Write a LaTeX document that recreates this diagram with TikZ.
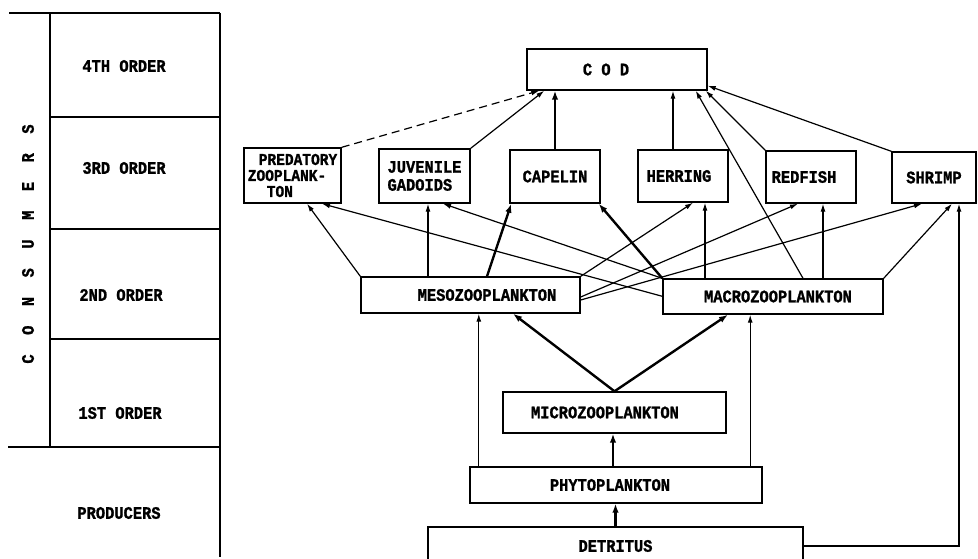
\documentclass[tikz,border=0pt]{standalone}
\usepackage{fontspec}
\newfontfamily\tw{Liberation Mono}[FakeStretch=0.88,FakeBold=1.2]
\usetikzlibrary{arrows.meta,calc}
\newcommand\consgap{\hspace*{19.5pt}}
\begin{document}
\begin{tikzpicture}[x=1pt,y=-1pt,
  every node/.style={font=\tw\bfseries\fontsize{17.5}{15.5}\selectfont, inner sep=1pt},
  bx/.style={draw, line width=1.4pt, rectangle, align=center},
  arr/.style={line width=1.2pt, -{Latex[length=8pt,width=5pt]}},
  tarr/.style={line width=2.4pt, -{Latex[length=9pt,width=6.5pt]}},
  dsh/.style={dash pattern=on 8pt off 5pt},
  tbl/.style={line width=1.4pt}]
\useasboundingbox (0,0) rectangle (978,559);

% left table
\draw[tbl] (9,13) -- (220,13);
\draw[tbl] (50,13) -- (50,447);
\draw[tbl] (50,117) -- (220,117);
\draw[tbl] (50,229) -- (220,229);
\draw[tbl] (50,339) -- (220,339);
\draw[tbl] (8,447) -- (220,447);
\draw[tbl] (220,13) -- (220,557);
\node (o4) at (124,66) {4TH ORDER};
\node (o3) at (124,168) {3RD ORDER};
\node (o2) at (121,295) {2ND ORDER};
\node (o1) at (120,413) {1ST ORDER};
\node (prod) at (119,513) {PRODUCERS};
\node[rotate=90] (cons) at (28,244) {C\consgap O\consgap N\consgap S\consgap U\consgap M\consgap E\consgap R\consgap S};

% boxes
\node[bx, minimum width=180pt, minimum height=41pt] (cod) at (617,69.5) {C O D\hspace*{22pt}};
\node[bx, minimum width=97pt, minimum height=55pt, align=left, font=\tw\bfseries\fontsize{16.5}{16}\selectfont] (pred) at (292.5,175.5) {\hspace*{11pt}PREDATORY\\ZOOPLANK-\\\hspace*{19pt}TON};
\node[bx, minimum width=91pt, minimum height=54pt, align=left, font=\tw\bfseries\fontsize{17.5}{18}\selectfont] (juv) at (424.5,176) {JUVENILE\\GADOIDS};
\node[bx, minimum width=90pt, minimum height=53pt] (cap) at (555,176.5) {CAPELIN};
\node[bx, minimum width=90pt, minimum height=52pt] (her) at (683,176) {HERRING\hspace*{8pt}};
\node[bx, minimum width=90pt, minimum height=52pt] (red) at (811,177) {REDFISH\hspace*{14pt}};
\node[bx, minimum width=84pt, minimum height=51pt] (shr) at (934,177.5) {SHRIMP};
\node[bx, minimum width=219pt, minimum height=36pt] (meso) at (470.5,295) {\hspace*{33pt}MESOZOOPLANKTON};
\node[bx, minimum width=220pt, minimum height=35pt] (macro) at (773,296.5) {\hspace*{10pt}MACROZOOPLANKTON};
\node[bx, minimum width=223pt, minimum height=41pt] (micro) at (614.5,412.5) {MICROZOOPLANKTON\hspace*{19pt}};
\node[bx, minimum width=292pt, minimum height=36pt] (phyto) at (616,485) {PHYTOPLANKTON\hspace*{12pt}};
\node[bx, minimum width=375pt, minimum height=38pt] (det) at (615.5,546) {DETRITUS};

% into COD
\draw[arr, dsh] (pred.north east) -- ([xshift=13pt]cod.south west);
\draw[arr] (juv.north east) -- ([xshift=18pt]cod.south west);
\draw[tarr] (cap.north) -- (cap.north |- cod.south);
\draw[arr] ([xshift=-10pt]her.north) -- ([xshift=-10pt]her.north |- cod.south);
\draw[arr] ([xshift=30pt]macro.north) -- ([xshift=-12pt]cod.south east);
\draw[arr] (red.north west) -- ([xshift=-2pt]cod.south east);
\draw[arr] (shr.north west) -- ([yshift=5pt]cod.south east);

% into third order
\draw[arr] (meso.north west) -- ([xshift=14.5pt]pred.south);
\draw[arr] ([yshift=-18pt]macro.north west) -- ([xshift=29.5pt]pred.south);
\draw[arr] ([xshift=-42.5pt]meso.north) -- ([xshift=-42.5pt]meso.north |- juv.south);
\draw[arr] (macro.north west) -- ([xshift=18.5pt]juv.south);
\draw[tarr] ([xshift=16.5pt]meso.north) -- ([xshift=2pt]cap.south west);
\draw[tarr] (macro.north west) -- ([xshift=-2pt]cap.south east);
\draw[arr] (meso.north east) -- ([xshift=10pt]her.south);
\draw[arr] ([xshift=-68pt]macro.north) -- ([xshift=-68pt]macro.north |- her.south);
\draw[arr] ([yshift=-2pt]meso.east) -- ([xshift=-13pt]red.south);
\draw[arr] ([xshift=50pt]macro.north) -- ([xshift=50pt]macro.north |- red.south);
\draw[arr] ([yshift=-5pt]meso.east) -- ([xshift=-12pt]shr.south);
\draw[arr] (macro.north east) -- ([xshift=18pt]shr.south);
\draw[arr] (det.east) -| ([xshift=25pt]shr.south);

% lower levels
\draw[tarr] (micro.north) -- ([xshift=42.5pt]meso.south);
\draw[tarr] (micro.north) -- ([xshift=-45pt]macro.south);
\draw[arr] ([xshift=9.5pt]phyto.north west) -- ([xshift=9.5pt]phyto.north west |- meso.south);
\draw[arr] ([xshift=-12.5pt]phyto.north east) -- ([xshift=-12.5pt]phyto.north east |- macro.south);
\draw[tarr] ([xshift=-3pt]phyto.north) -- ([xshift=-3pt]phyto.north |- micro.south);
\draw[tarr] (det.north) -- (det.north |- phyto.south);
\end{tikzpicture}
\end{document}
